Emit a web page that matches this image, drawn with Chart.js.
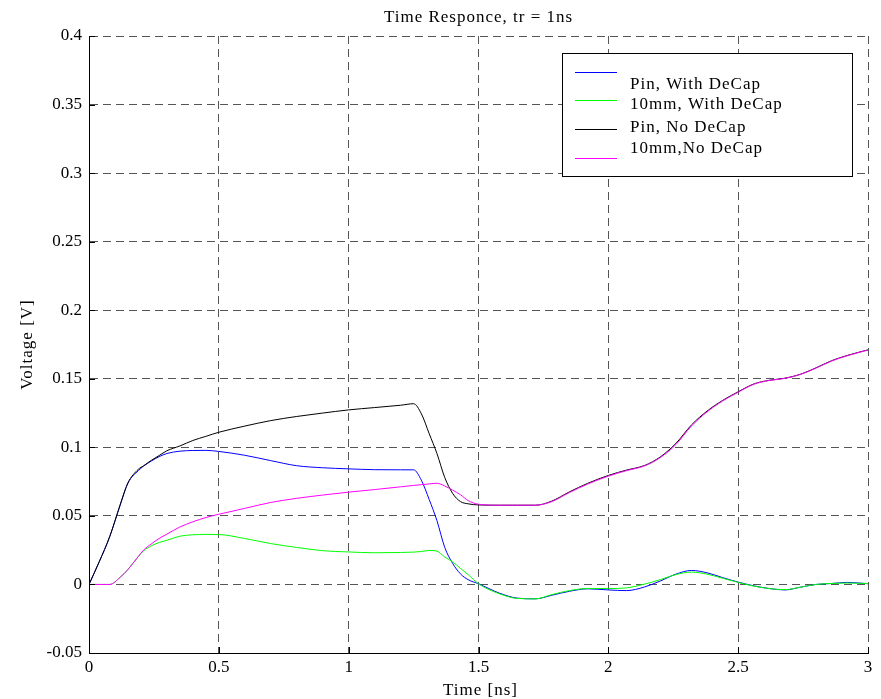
<!DOCTYPE html>
<html>
<head>
<meta charset="utf-8">
<title>Time Responce, tr = 1ns</title>
<script src="https://cdn.jsdelivr.net/npm/chart.js@4/dist/chart.umd.min.js"></script>
<style>
  html, body { margin: 0; padding: 0; background: #fff; }
  canvas { display: block; }
</style>
</head>
<body>
<canvas id="chart" width="881" height="699"></canvas>
<script>
// Simulated supply-voltage response for a 1 ns rise time.
const timeNs = [
  0, 0.04, 0.08, 0.12, 0.15, 0.19, 0.21, 0.24, 0.27, 0.3, 0.35, 0.4, 0.45, 0.5,
  0.6, 0.7, 0.8, 0.9, 1.0, 1.1, 1.2, 1.25, 1.28, 1.31, 1.34, 1.37,
  1.4, 1.43, 1.46, 1.5, 1.58, 1.65, 1.72, 1.78, 1.85, 1.92, 2.0, 2.07,
  2.14, 2.2, 2.26, 2.32, 2.38, 2.44, 2.5, 2.56, 2.62, 2.68, 2.74, 2.8,
  2.86, 2.92, 3.0
];

const pinWithDecap = [
  0, 0.0168, 0.035, 0.058, 0.074, 0.083, 0.0863, 0.0900, 0.0932, 0.0955, 0.0972, 0.0977, 0.0978, 0.0970,
  0.0942, 0.0903, 0.0866, 0.0851, 0.0843, 0.0837, 0.0836, 0.0836, 0.076, 0.062, 0.0465, 0.027,
  0.0155, 0.0078, 0.0035, 0.0005, -0.0063, -0.0100, -0.0105, -0.0080, -0.0050, -0.0032, -0.0040, -0.0045,
  -0.0018, 0.0025, 0.0075, 0.0102, 0.0085, 0.0050, 0.0017, -0.0010, -0.0030, -0.0040, -0.0020, 0.0000,
  0.0007, 0.0015, 0.0005
];

const mm10WithDecap = [
  0, 0, 0, 0.0052, 0.0109, 0.0204, 0.0245, 0.0282, 0.0306, 0.0322, 0.0352, 0.0362, 0.0365, 0.0364,
  0.0335, 0.0298, 0.0270, 0.0246, 0.0237, 0.0231, 0.0233, 0.0236, 0.0240, 0.0248, 0.0243, 0.0200,
  0.0165, 0.0118, 0.0072, 0.0005, -0.0068, -0.0102, -0.0105, -0.0075, -0.0045, -0.0030, -0.0030, -0.0025,
  0.0003, 0.0035, 0.0072, 0.0090, 0.0075, 0.0045, 0.0015, -0.0012, -0.0030, -0.0038, -0.0020, 0.0000,
  0.0007, 0.0010, 0.0007
];

const pinNoDecap = [
  0, 0.0168, 0.035, 0.058, 0.074, 0.084, 0.0865, 0.0905, 0.0940, 0.0975, 0.1010, 0.1050, 0.1080, 0.1110,
  0.1155, 0.1195, 0.1225, 0.1250, 0.1273, 0.1290, 0.1307, 0.1318, 0.1245, 0.1100, 0.0955, 0.0780,
  0.0665, 0.0605, 0.0588, 0.0580, 0.0578, 0.0578, 0.0578, 0.0606, 0.0675, 0.0737, 0.0795, 0.0834,
  0.0868, 0.0930, 0.1028, 0.1163, 0.1264, 0.1342, 0.1405, 0.1462, 0.1489, 0.1504, 0.1533, 0.1580,
  0.1632, 0.1670, 0.1711
];

const mm10NoDecap = [
  0, 0, 0, 0.0052, 0.0109, 0.0204, 0.0250, 0.0296, 0.0335, 0.0367, 0.0419, 0.0457, 0.0488, 0.0512,
  0.0555, 0.0598, 0.0628, 0.0652, 0.0673, 0.0692, 0.0712, 0.0722, 0.0728, 0.0733, 0.0738, 0.0718,
  0.0688, 0.0655, 0.0612, 0.0585, 0.0578, 0.0578, 0.0578, 0.0603, 0.0670, 0.0732, 0.0790, 0.0830,
  0.0865, 0.0925, 0.1020, 0.1155, 0.1258, 0.1338, 0.1402, 0.1460, 0.1488, 0.1503, 0.1532, 0.1578,
  0.1630, 0.1668, 0.1710
];

const seriesLabels = ['Pin, With DeCap', '10mm, With DeCap', 'Pin, No DeCap', '10mm,No DeCap'];
const seriesColors = ['#0000ff', '#00ff00', '#000000', '#ff00ff'];

const xTicks = [0, 0.5, 1, 1.5, 2, 2.5, 3];
const xTickLabels = ['0', '0.5', '1', '1.5', '2', '2.5', '3'];
const yTicks = [-0.05, 0, 0.05, 0.1, 0.15, 0.2, 0.25, 0.3, 0.35, 0.4];
const yTickLabels = ['-0.05', '0', '0.05', '0.1', '0.15', '0.2', '0.25', '0.3', '0.35', '0.4'];

const titleText = 'Time Responce, tr = 1ns';
const xTitle = 'Time [ns]';
const yTitle = 'Voltage [V]';

const FONT = '"Liberation Serif", "Times New Roman", serif';

function toPoints(values) {
  return values.map((v, i) => ({ x: timeNs[i], y: v }));
}

const seriesValues = [pinWithDecap, mm10WithDecap, pinNoDecap, mm10NoDecap];

// Later series are painted on top, as in the original plot order.
const datasets = seriesValues.map((vals, i) => ({
  label: seriesLabels[i],
  data: toPoints(vals),
  borderColor: seriesColors[i],
  borderWidth: 1,
  pointRadius: 0,
  cubicInterpolationMode: 'monotone',
  fill: false,
  order: seriesValues.length - i
}));

// Title, axis titles, inward tick marks and the boxed legend.
const decorations = {
  id: 'decorations',
  afterDraw(chart) {
    const ctx = chart.ctx;
    const area = chart.chartArea;
    const xs = chart.scales.x;
    const ys = chart.scales.y;
    ctx.save();

    // inward ticks on the left and bottom axes
    ctx.strokeStyle = '#000';
    ctx.lineWidth = 1;
    ctx.beginPath();
    yTicks.forEach(v => {
      const py = Math.round(ys.getPixelForValue(v)) + 0.5;
      ctx.moveTo(area.left, py);
      ctx.lineTo(area.left + 6, py);
    });
    xTicks.forEach(v => {
      const px = Math.round(xs.getPixelForValue(v)) + 0.5;
      ctx.moveTo(px, area.bottom);
      ctx.lineTo(px, area.bottom - 6);
    });
    ctx.stroke();

    ctx.fillStyle = '#000';
    ctx.font = '17px ' + FONT;
    ctx.letterSpacing = '1px';
    ctx.textBaseline = 'alphabetic';

    // chart title
    ctx.textAlign = 'center';
    ctx.fillText(titleText, (area.left + area.right) / 2, 21.7);

    // x axis title
    ctx.fillText(xTitle, (area.left + area.right) / 2 + 2, 695);

    // y axis title
    ctx.save();
    ctx.translate(31.7, (area.top + area.bottom) / 2);
    ctx.rotate(-Math.PI / 2);
    ctx.fillText(yTitle, 0, 0);
    ctx.restore();

    // legend box
    const box = { left: 562.5, top: 53.5, width: 290, height: 123 };
    ctx.fillStyle = '#fff';
    ctx.fillRect(box.left, box.top, box.width, box.height);
    ctx.strokeStyle = '#000';
    ctx.lineWidth = 1;
    ctx.strokeRect(box.left, box.top, box.width, box.height);

    const lineYs = [72.5, 100.5, 129.5, 158.5];
    const textYs = [89.3, 109.3, 131.7, 152.7];
    ctx.textAlign = 'left';
    seriesLabels.forEach((label, i) => {
      ctx.strokeStyle = seriesColors[i];
      ctx.beginPath();
      ctx.moveTo(575, lineYs[i]);
      ctx.lineTo(617, lineYs[i]);
      ctx.stroke();
      ctx.fillStyle = '#000';
      ctx.fillText(label, 630, textYs[i]);
    });

    ctx.restore();
  }
};

const tickFont = { family: FONT, size: 17 };

new Chart(document.getElementById('chart'), {
  type: 'line',
  data: { datasets },
  options: {
    responsive: false,
    animation: false,
    events: [],
    layout: { padding: { left: 0, right: 13, top: 36, bottom: 0 } },
    plugins: {
      legend: { display: false },
      title: { display: false },
      tooltip: { enabled: false }
    },
    scales: {
      x: {
        type: 'linear',
        min: 0,
        max: 3,
        afterBuildTicks: s => { s.ticks = xTicks.map(v => ({ value: v })); },
        afterFit: s => { s.height = 46; },
        grid: { color: '#555', lineWidth: 1, drawTicks: false },
        border: { display: true, color: '#000', width: 1, dash: [8, 5] },
        ticks: {
          padding: 4,
          color: '#000',
          font: tickFont,
          maxRotation: 0,
          autoSkip: false,
          callback: (v, i) => xTickLabels[i]
        }
      },
      y: {
        type: 'linear',
        min: -0.05,
        max: 0.4,
        afterBuildTicks: s => { s.ticks = yTicks.map(v => ({ value: v })); },
        afterFit: s => { s.width = 89; },
        grid: { color: '#555', lineWidth: 1, drawTicks: false },
        border: { display: true, color: '#000', width: 1, dash: [8, 5] },
        ticks: {
          padding: 7,
          color: '#000',
          font: tickFont,
          autoSkip: false,
          callback: (v, i) => yTickLabels[i]
        }
      }
    }
  },
  plugins: [decorations]
});
</script>
</body>
</html>
